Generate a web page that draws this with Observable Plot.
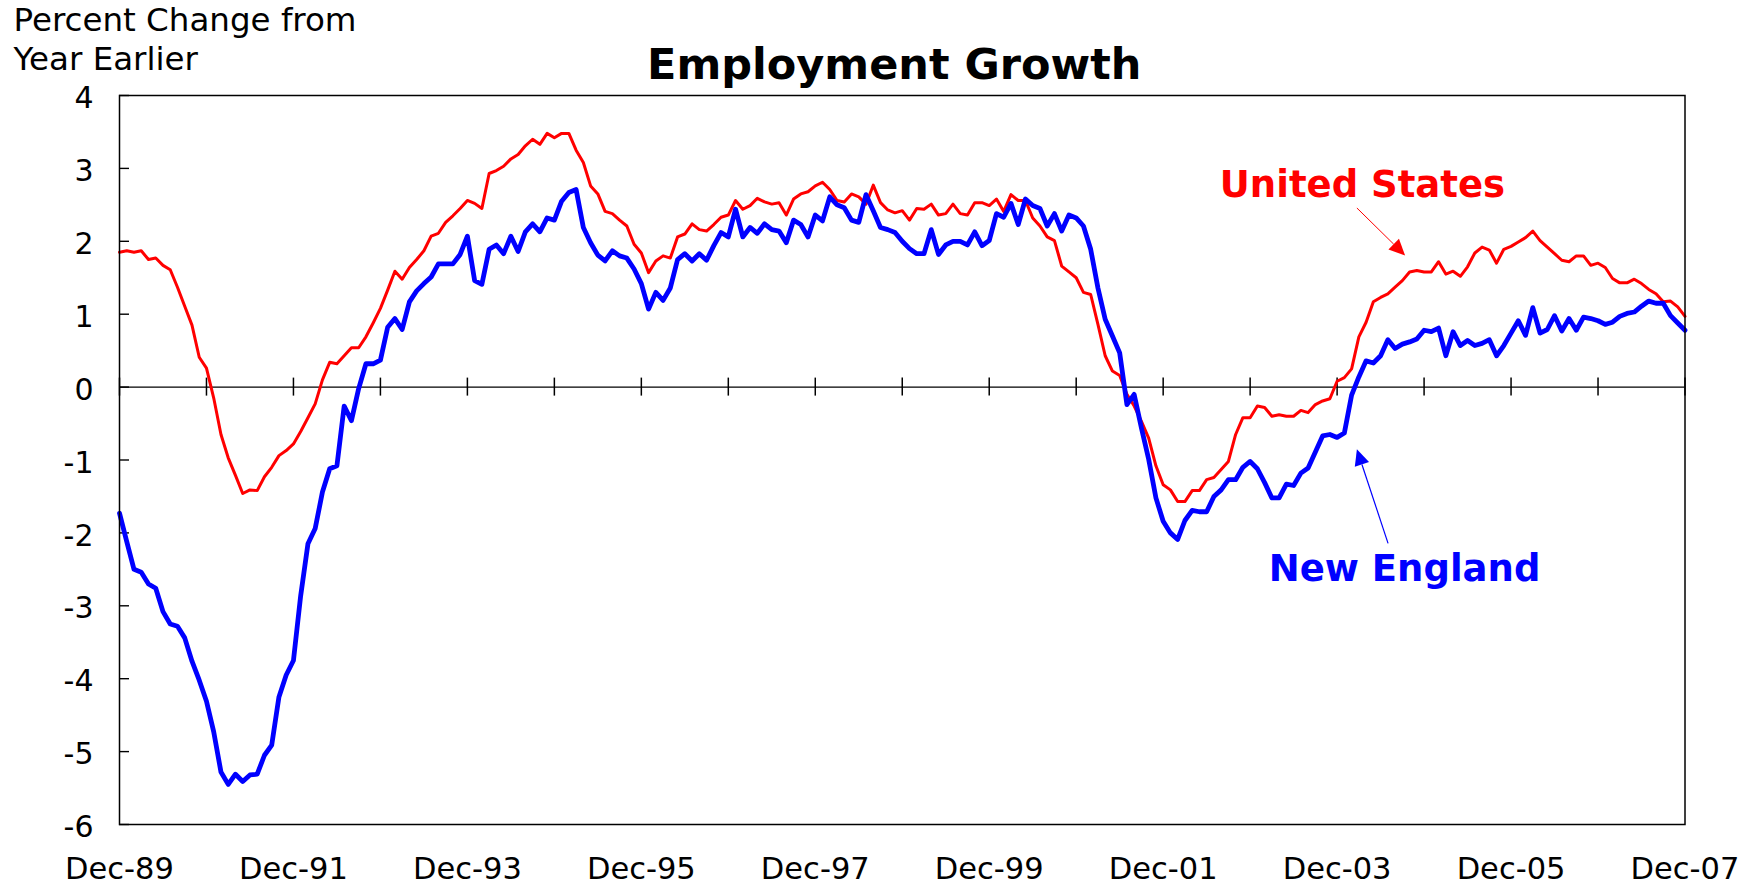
<!DOCTYPE html>
<html>
<head>
<meta charset="utf-8">
<script src="https://cdn.jsdelivr.net/npm/d3@7"></script>
<script src="https://cdn.jsdelivr.net/npm/@observablehq/plot@0.6"></script>
<style>
html, body { margin: 0; padding: 0; background: #fff; overflow: hidden; }
#chart svg { display: block; }
</style>
</head>
<body>
<div id="chart"></div>
<script>
// ---- Data (percent change from year earlier), monthly Dec-1989 .. Dec-2007 ----
const unitedStates = [
  1.85,1.87,1.85,1.87,1.75,1.77,1.67,1.61,1.37,1.11,0.85,0.41,
  0.26,-0.15,-0.65,-0.97,-1.21,-1.46,-1.41,-1.42,-1.23,-1.10,-0.94,-0.87,
  -0.78,-0.61,-0.42,-0.23,0.10,0.34,0.32,0.43,0.54,0.54,0.69,0.88,
  1.08,1.33,1.59,1.48,1.64,1.75,1.87,2.07,2.11,2.26,2.35,2.45,
  2.56,2.52,2.45,2.93,2.97,3.03,3.13,3.19,3.31,3.40,3.33,3.48,
  3.42,3.48,3.48,3.25,3.08,2.76,2.65,2.41,2.38,2.29,2.21,1.96,
  1.84,1.57,1.73,1.80,1.77,2.06,2.10,2.24,2.16,2.14,2.23,2.33,
  2.36,2.56,2.44,2.49,2.59,2.54,2.51,2.53,2.36,2.58,2.65,2.68,
  2.76,2.81,2.71,2.56,2.54,2.65,2.61,2.51,2.77,2.53,2.43,2.39,
  2.42,2.29,2.45,2.44,2.51,2.36,2.38,2.51,2.38,2.36,2.53,2.53,
  2.49,2.58,2.41,2.64,2.56,2.56,2.32,2.21,2.06,2.01,1.66,1.58,
  1.50,1.30,1.27,0.86,0.43,0.22,0.16,-0.10,-0.26,-0.47,-0.70,-1.08,
  -1.34,-1.41,-1.57,-1.57,-1.42,-1.42,-1.27,-1.24,-1.13,-1.02,-0.65,-0.42,
  -0.42,-0.26,-0.28,-0.40,-0.38,-0.40,-0.40,-0.32,-0.35,-0.24,-0.19,-0.16,
  0.08,0.13,0.25,0.69,0.89,1.17,1.23,1.28,1.37,1.46,1.58,1.60,
  1.58,1.58,1.72,1.55,1.59,1.52,1.65,1.84,1.92,1.88,1.70,1.89,
  1.93,1.99,2.05,2.14,2.01,1.92,1.83,1.74,1.72,1.80,1.80,1.67,
  1.70,1.64,1.49,1.43,1.43,1.48,1.42,1.34,1.28,1.17,1.18,1.10,
  0.97
];
const newEngland = [
  -1.73,-2.12,-2.50,-2.54,-2.70,-2.76,-3.08,-3.25,-3.28,-3.44,-3.76,-4.02,
  -4.31,-4.73,-5.28,-5.45,-5.31,-5.41,-5.32,-5.31,-5.05,-4.91,-4.25,-3.95,
  -3.75,-2.86,-2.15,-1.94,-1.44,-1.12,-1.08,-0.26,-0.46,-0.02,0.32,0.32,
  0.37,0.82,0.94,0.79,1.17,1.32,1.42,1.51,1.69,1.69,1.69,1.82,
  2.07,1.46,1.41,1.89,1.95,1.83,2.07,1.86,2.13,2.24,2.13,2.32,
  2.29,2.55,2.67,2.71,2.19,1.98,1.81,1.73,1.87,1.80,1.77,1.62,
  1.42,1.07,1.30,1.19,1.36,1.75,1.83,1.73,1.83,1.74,1.94,2.12,
  2.06,2.44,2.06,2.19,2.11,2.24,2.16,2.14,1.98,2.29,2.23,2.06,
  2.36,2.28,2.61,2.50,2.46,2.29,2.26,2.64,2.42,2.19,2.16,2.12,
  2.00,1.90,1.83,1.83,2.16,1.82,1.95,2.00,2.00,1.95,2.13,1.94,
  2.01,2.38,2.33,2.52,2.23,2.58,2.49,2.45,2.21,2.38,2.14,2.36,
  2.32,2.21,1.89,1.36,0.93,0.70,0.47,-0.24,-0.10,-0.56,-0.99,-1.52,
  -1.84,-2.00,-2.09,-1.83,-1.69,-1.71,-1.71,-1.50,-1.41,-1.27,-1.27,-1.10,
  -1.02,-1.12,-1.31,-1.52,-1.52,-1.33,-1.35,-1.18,-1.11,-0.89,-0.67,-0.65,
  -0.69,-0.63,-0.11,0.14,0.36,0.33,0.43,0.65,0.53,0.59,0.62,0.66,
  0.78,0.76,0.81,0.43,0.76,0.57,0.64,0.57,0.60,0.65,0.43,0.57,
  0.74,0.91,0.71,1.09,0.74,0.79,0.98,0.77,0.94,0.78,0.96,0.94,
  0.91,0.86,0.89,0.97,1.01,1.03,1.11,1.18,1.15,1.15,0.98,0.88,
  0.78
];

const seriesNames = ["United States", "New England"];
const seriesColors = ["#ff0000", "#0000ff"];

const yTicks = [4, 3, 2, 1, 0, -1, -2, -3, -4, -5, -6];
const yTickLabels = ["4", "3", "2", "1", "0", "-1", "-2", "-3", "-4", "-5", "-6"];
const yearTicks = [0, 12, 24, 36, 48, 60, 72, 84, 96, 108, 120, 132, 144, 156, 168, 180, 192, 204, 216];
const xLabelTicks = [0, 24, 48, 72, 96, 120, 144, 168, 192, 216];
const xTickLabels = ["Dec-89", "Dec-91", "Dec-93", "Dec-95", "Dec-97", "Dec-99", "Dec-01", "Dec-03", "Dec-05", "Dec-07"];

const titleText = "Employment Growth";
const yAxisTitle = "Percent Change from\nYear Earlier";

// annotation labels and arrows (data coordinates: month index, percent)
const labelPositions = [
  {text: seriesNames[0], x: 171.5, y: 2.61, color: seriesColors[0]},
  {text: seriesNames[1], x: 177.3, y: -2.66, color: seriesColors[1]}
];
const arrowPositions = [
  {x1: 170.8, y1: 2.45, x2: 177.45, y2: 1.80, color: seriesColors[0], width: 1},
  {x1: 175.1, y1: -2.15, x2: 170.8, y2: -0.86, color: seriesColors[1], width: 1.2}
];

// ---- table ----
const rows = unitedStates.map((v, i) => ({i, us: v, ne: newEngland[i]}));

function arrowsMark(arrows) {
  return (index, scales, values, dimensions, context) => {
    const {x, y} = scales;
    const g = d3.create("svg:g");
    for (const a of arrows) {
      const X1 = x(a.x1), Y1 = y(a.y1), X2 = x(a.x2), Y2 = y(a.y2);
      const ang = Math.atan2(Y2 - Y1, X2 - X1);
      const L = 16, W = 7.5;
      const bx = X2 - L * Math.cos(ang), by = Y2 - L * Math.sin(ang);
      g.append("line")
        .attr("x1", X1).attr("y1", Y1).attr("x2", bx).attr("y2", by)
        .attr("stroke", a.color).attr("stroke-width", a.width);
      g.append("path")
        .attr("d", `M${X2},${Y2}L${bx + W * Math.sin(ang)},${by - W * Math.cos(ang)}L${bx - W * Math.sin(ang)},${by + W * Math.cos(ang)}Z`)
        .attr("fill", a.color);
    }
    return g.node();
  };
}

const chart = Plot.plot({
  width: 1754,
  height: 883,
  marginLeft: 119,
  marginRight: 69.5,
  marginTop: 95,
  marginBottom: 59,
  style: {
    fontFamily: "'DejaVu Sans', Verdana, sans-serif",
    fontSize: "30px",
    color: "#000",
    background: "#fff",
    overflow: "visible"
  },
  x: {domain: [0, 216]},
  y: {domain: [-6, 4]},
  marks: [
    // zero line
    Plot.ruleY([0], {stroke: "#000", strokeWidth: 1.4}),
    // year ticks crossing the zero line
    Plot.ruleX(yearTicks, {x: (d) => d, y1: 0, y2: 0, insetTop: -9, insetBottom: -9, stroke: "#000", strokeWidth: 1.5}),
    // inward y ticks on the left frame
    Plot.ruleY(yTicks, {y: (d) => d, x1: 0, x2: 0, insetRight: -10, stroke: "#000", strokeWidth: 1.4}),
    Plot.axisY({
      ticks: yTicks, tickSize: 0, tickPadding: 26, dy: 3,
      tickFormat: (d) => yTickLabels[yTicks.indexOf(d)], label: null, fontSize: 30
    }),
    Plot.axisX({
      ticks: xLabelTicks, tickSize: 0, tickPadding: 33,
      tickFormat: (d) => xTickLabels[xLabelTicks.indexOf(d)], label: null, fontSize: 30.5
    }),
    Plot.line(rows, {x: "i", y: "us", stroke: seriesColors[0], strokeWidth: 3, strokeLinejoin: "round"}),
    Plot.line(rows, {x: "i", y: "ne", stroke: seriesColors[1], strokeWidth: 4.8, strokeLinejoin: "round"}),
    Plot.frame({stroke: "#000", strokeWidth: 1.5}),
    ...labelPositions.map((l) =>
      Plot.text([l], {x: "x", y: "y", text: "text", fill: l.color, fontSize: 37, fontWeight: "bold", lineAnchor: "bottom"})
    ),
    arrowsMark(arrowPositions),
    Plot.text([titleText], {
      text: (d) => d, frameAnchor: "top", dx: -8, dy: -17, lineAnchor: "bottom",
      fontSize: 43, fontWeight: "bold", fill: "#000"
    }),
    Plot.text([yAxisTitle], {
      text: (d) => d, frameAnchor: "top-left", textAnchor: "start", dx: -106, dy: -26,
      lineAnchor: "bottom", lineHeight: 1.17, fontSize: 32.5, fill: "#000"
    })
  ]
});

document.getElementById("chart").appendChild(chart);
</script>
</body>
</html>
